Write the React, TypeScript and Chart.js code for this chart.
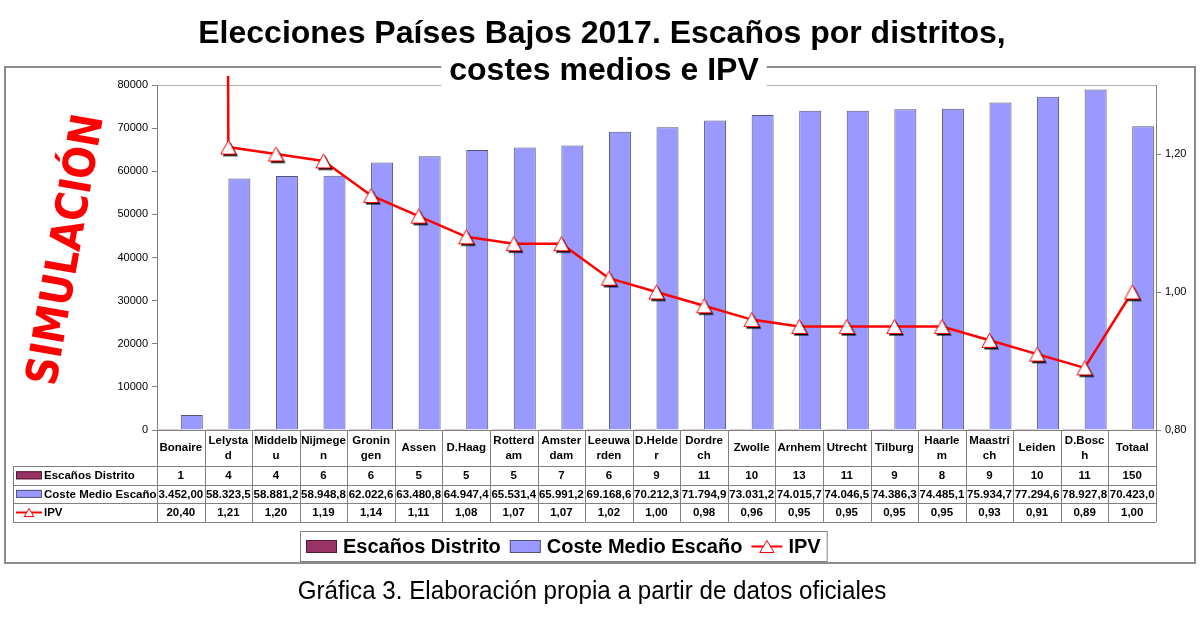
import { useEffect, useRef } from 'react';
import { Chart, registerables } from 'chart.js';

Chart.register(...registerables);

const FONT = "'Liberation Sans', Arial, sans-serif";

// Category names, wrapped the way the data table shows them
const categories: string[][] = [
  ['Bonaire'], ['Lelysta', 'd'], ['Middelb', 'u'], ['Nijmege', 'n'], ['Gronin', 'gen'],
  ['Assen'], ['D.Haag'], ['Rotterd', 'am'], ['Amster', 'dam'], ['Leeuwa', 'rden'],
  ['D.Helde', 'r'], ['Dordre', 'ch'], ['Zwolle'], ['Arnhem'], ['Utrecht'],
  ['Tilburg'], ['Haarle', 'm'], ['Maastri', 'ch'], ['Leiden'], ['D.Bosc', 'h'], ['Totaal'],
];

const escanos = [1, 4, 4, 6, 6, 5, 5, 5, 7, 6, 9, 11, 10, 13, 11, 9, 8, 9, 10, 11, 150];
const costeMedio = [
  3452.0, 58323.5, 58881.2, 58948.8, 62022.6, 63480.8, 64947.4, 65531.4, 65991.2, 69168.6,
  70212.3, 71794.9, 73031.2, 74015.7, 74046.5, 74386.3, 74485.1, 75934.7, 77294.6, 78927.8, 70423.0,
];
const ipv = [
  20.4, 1.21, 1.2, 1.19, 1.14, 1.11, 1.08, 1.07, 1.07, 1.02,
  1.0, 0.98, 0.96, 0.95, 0.95, 0.95, 0.95, 0.93, 0.91, 0.89, 1.0,
];

const rightTicks = [0.8, 1.0, 1.2];
const seriesNames = ['Escaños Distrito', 'Coste Medio Escaño', 'IPV'];
const titleLines = ['Elecciones Países Bajos 2017. Escaños por distritos,', 'costes medios e IPV'];
const caption = 'Gráfica 3. Elaboración propia a partir de datos oficiales';
const watermark = 'SIMULACIÓN';

const MAGENTA = '#993366';
const LAVENDER = '#9999FF';
const RED = '#FF0000';
const GRID = '#808080';

function fmtEs(v: number, decimals: number) {
  const [int, dec] = v.toFixed(decimals).split('.');
  const grouped = int.replace(/\B(?=(\d{3})+(?!\d))/g, '.');
  return dec ? `${grouped},${dec}` : grouped;
}

function triPath(ctx: CanvasRenderingContext2D, cx: number, cy: number, w: number, h: number) {
  ctx.beginPath();
  ctx.moveTo(cx, cy - h / 2);
  ctx.lineTo(cx + w / 2, cy + h / 2);
  ctx.lineTo(cx - w / 2, cy + h / 2);
  ctx.closePath();
}

// Excel-like triangle marker with a black drop shadow
function makeMarker() {
  const c = document.createElement('canvas');
  c.width = 21;
  c.height = 21;
  const g = c.getContext('2d')!;
  g.fillStyle = '#000';
  triPath(g, 12.5, 12.5, 15, 14);
  g.fill();
  g.fillStyle = '#fff';
  g.strokeStyle = RED;
  g.lineWidth = 1;
  triPath(g, 10.5, 10.5, 15, 14);
  g.fill();
  g.stroke();
  return c;
}

function hline(ctx: CanvasRenderingContext2D, x1: number, x2: number, y: number) {
  ctx.beginPath();
  ctx.moveTo(x1, Math.round(y) + 0.5);
  ctx.lineTo(x2, Math.round(y) + 0.5);
  ctx.stroke();
}

function vline(ctx: CanvasRenderingContext2D, x: number, y1: number, y2: number) {
  ctx.beginPath();
  ctx.moveTo(Math.round(x) + 0.5, y1);
  ctx.lineTo(Math.round(x) + 0.5, y2);
  ctx.stroke();
}

function drawKey(ctx: CanvasRenderingContext2D, i: number, x: number, cy: number, w: number, h: number) {
  if (i === 2) {
    ctx.strokeStyle = RED;
    ctx.lineWidth = 2;
    ctx.beginPath();
    ctx.moveTo(x, cy);
    ctx.lineTo(x + w, cy);
    ctx.stroke();
    ctx.fillStyle = '#fff';
    ctx.strokeStyle = RED;
    ctx.lineWidth = 1;
    triPath(ctx, x + w / 2, cy, h * 1.2, h);
    ctx.fill();
    ctx.stroke();
  } else {
    ctx.fillStyle = i === 0 ? MAGENTA : LAVENDER;
    ctx.fillRect(x, cy - h / 2, w, h);
    ctx.strokeStyle = i === 0 ? '#4d1a33' : '#55557a';
    ctx.lineWidth = 1;
    ctx.strokeRect(x + 0.5, cy - h / 2 + 0.5, w - 1, h - 1);
  }
}

const excelDecor = {
  id: 'excelDecor',
  beforeDraw(chart: Chart) {
    const ctx = chart.ctx;
    const { left, right, top } = chart.chartArea;
    ctx.save();
    ctx.fillStyle = '#fff';
    ctx.fillRect(0, 0, chart.width, chart.height);

    // outer frame
    ctx.strokeStyle = '#8c8c8c';
    ctx.lineWidth = 2;
    ctx.strokeRect(5, 67, 1190, 496);

    // plot area top border
    ctx.strokeStyle = '#b0b0b0';
    ctx.lineWidth = 1;
    hline(ctx, left, right, top);

    // red watermark
    ctx.translate(68, 250);
    ctx.rotate((-80 * Math.PI) / 180);
    ctx.font = `bold 44px 'DejaVu Sans', sans-serif`;
    const tw = ctx.measureText(watermark).width;
    ctx.scale(274 / tw, 1);
    ctx.fillStyle = RED;
    ctx.textAlign = 'center';
    ctx.textBaseline = 'middle';
    ctx.fillText(watermark, 0, 0);
    ctx.restore();
  },
  afterDraw(chart: Chart) {
    const ctx = chart.ctx;
    const { left, right, bottom } = chart.chartArea;
    const n = categories.length;
    const w = (right - left) / n;
    const catBot = bottom + 36;
    const rowH = 18.6;
    const rows = [catBot, catBot + rowH, catBot + 2 * rowH, catBot + 3 * rowH];
    const headerLeft = 13;

    ctx.save();
    // data table grid
    ctx.strokeStyle = GRID;
    ctx.lineWidth = 1;
    hline(ctx, left, right, bottom);
    rows.forEach((r) => hline(ctx, headerLeft, right, r));
    vline(ctx, headerLeft, catBot, rows[3]);
    for (let i = 0; i <= n; i++) vline(ctx, left + i * w, bottom, rows[3]);

    ctx.fillStyle = '#000';
    ctx.textAlign = 'center';
    ctx.textBaseline = 'middle';
    ctx.font = `bold 11.5px ${FONT}`;
    const x = chart.scales.x;
    categories.forEach((lines, i) => {
      const cx = x.getPixelForValue(i);
      const y0 = (bottom + catBot) / 2 - ((lines.length - 1) * 15) / 2;
      lines.forEach((t, k) => ctx.fillText(t, cx, y0 + k * 15));
      ctx.fillText(String(escanos[i]), cx, rows[0] + rowH / 2 + 0.5);
      ctx.fillText(fmtEs(costeMedio[i], costeMedio[i] < 10000 ? 2 : 1), cx, rows[1] + rowH / 2 + 0.5);
      ctx.fillText(fmtEs(ipv[i], 2), cx, rows[2] + rowH / 2 + 0.5);
    });

    // row headers
    seriesNames.forEach((name, i) => {
      const cy = rows[i] + rowH / 2;
      drawKey(ctx, i, 16, cy, 26, 8);
      ctx.fillStyle = '#000';
      ctx.textAlign = 'left';
      ctx.font = `bold 11.5px ${FONT}`;
      ctx.fillText(name, 44, cy + 0.5);
    });

    // legend
    ctx.font = `bold 20px ${FONT}`;
    const widths = seriesNames.map((s) => ctx.measureText(s).width);
    const keyW = 31;
    const total = 12 + widths.reduce((a, b) => a + b, 0) + 3 * (keyW + 6) + 2 * 9;
    const boxL = Math.round(563.5 - total / 2);
    const boxT = 531;
    const boxH = 30;
    ctx.fillStyle = '#fff';
    ctx.fillRect(boxL, boxT, total, boxH);
    ctx.strokeStyle = GRID;
    ctx.strokeRect(boxL + 0.5, boxT + 0.5, total, boxH);
    let lx = boxL + 6;
    const ly = boxT + boxH / 2 + 0.5;
    seriesNames.forEach((name, i) => {
      drawKey(ctx, i, lx, ly, keyW, i === 2 ? 12 : 13);
      lx += keyW + 6;
      ctx.fillStyle = '#000';
      ctx.textAlign = 'left';
      ctx.font = `bold 20px ${FONT}`;
      ctx.fillText(name, lx, ly + 1);
      lx += widths[i] + 9;
    });

    // title
    ctx.font = `bold 32px ${FONT}`;
    ctx.textAlign = 'center';
    ctx.textBaseline = 'alphabetic';
    const t2w = ctx.measureText(titleLines[1]).width;
    ctx.fillStyle = '#fff';
    ctx.fillRect(604 - t2w / 2 - 8, 56, t2w + 16, 30);
    ctx.fillStyle = '#000';
    ctx.fillText(titleLines[0], 602, 43);
    ctx.fillText(titleLines[1], 604, 80);

    // caption (slightly condensed)
    ctx.translate(592, 599);
    ctx.scale(0.93, 1);
    ctx.font = `26px ${FONT}`;
    ctx.fillText(caption, 0, 0);
    ctx.restore();
  },
};

export default function App() {
  const canvasRef = useRef<HTMLCanvasElement>(null);

  useEffect(() => {
    if (!canvasRef.current) return;
    Chart.defaults.font.family = FONT;
    Chart.defaults.color = '#000';
    const marker = makeMarker();

    const chart = new Chart(canvasRef.current, {
      type: 'bar',
      data: {
        labels: categories.map((c) => c.join('')),
        datasets: [
          {
            type: 'line',
            label: seriesNames[2],
            data: ipv,
            yAxisID: 'y1',
            borderColor: RED,
            borderWidth: 2.5,
            tension: 0,
            pointStyle: marker,
            pointRadius: 8,
            clip: { left: 0, top: 9, right: 0, bottom: 0 },
            order: 0,
          },
          {
            type: 'bar',
            label: seriesNames[0],
            data: escanos,
            yAxisID: 'y',
            backgroundColor: MAGENTA,
            borderColor: '#4d1a33',
            borderWidth: 1,
            order: 1,
          },
          {
            type: 'bar',
            label: seriesNames[1],
            data: costeMedio,
            yAxisID: 'y',
            backgroundColor: LAVENDER,
            borderColor: '#55557a',
            borderWidth: 1,
            order: 1,
          },
        ] as any,
      },
      options: {
        responsive: true,
        maintainAspectRatio: false,
        animation: false,
        datasets: { bar: { categoryPercentage: 0.925, barPercentage: 1 } },
        layout: { padding: { left: 97, right: 4, top: 85, bottom: 200 } },
        plugins: { legend: { display: false }, tooltip: { enabled: false } },
        scales: {
          x: { display: false },
          y: {
            position: 'left',
            min: 0,
            max: 80000,
            ticks: { stepSize: 10000, font: { size: 11 }, color: '#000', padding: 4, callback: (v) => String(v) },
            grid: { drawOnChartArea: false, tickLength: 5, color: GRID },
            border: { color: GRID },
            afterFit: (s: any) => { s.width = 60; },
          },
          y1: {
            position: 'right',
            min: 0.8,
            max: 1.3,
            afterBuildTicks: (axis: any) => { axis.ticks = rightTicks.map((v) => ({ value: v })); },
            ticks: { font: { size: 11 }, color: '#000', padding: 4, callback: (v) => Number(v).toFixed(2).replace('.', ',') },
            grid: { drawOnChartArea: false, tickLength: 5, color: GRID },
            border: { color: GRID },
            afterFit: (s: any) => { s.width = 40; },
          },
        },
      },
      plugins: [excelDecor],
    });

    return () => chart.destroy();
  }, []);

  return (
    <div style={{ position: 'absolute', left: 0, top: 0, width: 1200, height: 630, background: '#fff' }}>
      <canvas ref={canvasRef} />
    </div>
  );
}
